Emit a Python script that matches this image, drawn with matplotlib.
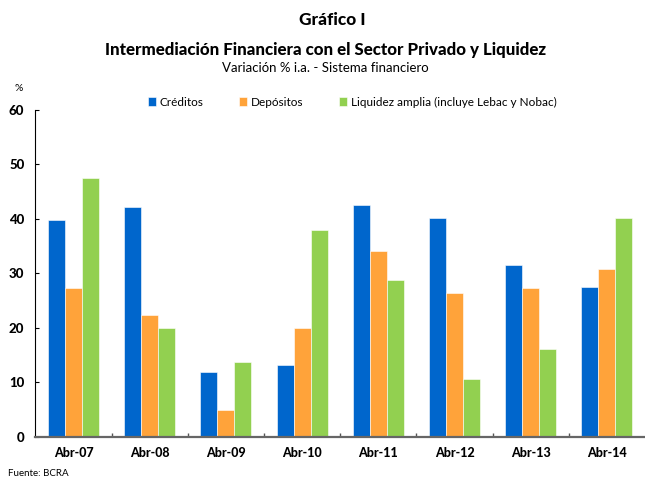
import numpy as np
import matplotlib.pyplot as plt

# Datos (variación % i.a.)
periodos = ["Abr-07", "Abr-08", "Abr-09", "Abr-10", "Abr-11", "Abr-12", "Abr-13", "Abr-14"]
creditos = [39.8, 42.2, 12.0, 13.3, 42.5, 40.2, 31.6, 27.5]
depositos = [27.3, 22.4, 5.0, 20.0, 34.2, 26.5, 27.4, 30.8]
liquidez = [47.5, 20.0, 13.8, 38.0, 28.8, 10.6, 16.1, 40.1]
series_nombres = ["Créditos", "Depósitos", "Liquidez amplia (incluye Lebac y Nobac)"]

colores = ["#0066CC", "#FFA33A", "#92D050"]

plt.rcParams['font.family'] = ['Lato', 'DejaVu Sans']

fig = plt.figure(figsize=(6.45, 4.79), dpi=100)
ax = fig.add_axes([0.055, 0.0877, 0.945, 0.6827])

x = np.arange(len(periodos))
w = 0.223
for i, (vals, col, nom) in enumerate(zip([creditos, depositos, liquidez], colores, series_nombres)):
    ax.bar(x + (i - 1) * w, vals, width=w, color=col, label=nom,
           edgecolor="white", linewidth=0.4, zorder=2)

ax.set_xlim(-0.5, len(periodos) - 0.5)
ax.set_ylim(0, 60)
ax.set_yticks(range(0, 61, 10))
ax.set_yticklabels([str(v) for v in range(0, 61, 10)], fontsize=9.5, fontweight="black")
ax.set_xticks(x)
ax.set_xticklabels(periodos, fontsize=9, fontweight="black")
ax.set_xticks(np.arange(0.5, len(periodos) - 0.5, 1), minor=True)

ax.tick_params(axis="y", direction="in", length=3, width=0.8, pad=8)
ax.tick_params(axis="x", which="major", length=0, pad=7)
ax.tick_params(axis="x", which="minor", direction="in", length=3, width=1, color="#555555")

for s in ["top", "right"]:
    ax.spines[s].set_visible(False)
ax.spines["left"].set_linewidth(0.8)
ax.spines["bottom"].set_color("#666666")
ax.spines["bottom"].set_linewidth(1.6)

fig.text(0.515, 0.958, "Gráfico I", ha="center", va="center", fontsize=12.4, fontweight="black")
fig.text(0.504, 0.896, "Intermediación Financiera con el Sector Privado y Liquidez",
         ha="center", va="center", fontsize=12.2, fontweight="black")
fig.text(0.505, 0.858, "Variación % i.a. - Sistema financiero", ha="center", va="center", fontsize=9.5)
fig.text(0.029, 0.815, "%", ha="center", va="center", fontsize=7.5)
fig.text(0.012, 0.003, "Fuente: BCRA", ha="left", va="bottom", fontsize=7)

fig.legend(loc="center", bbox_to_anchor=(0.546, 0.787), ncol=3, frameon=False,
           fontsize=8.5, handlelength=0.7, handleheight=0.7, handletextpad=0.3,
           columnspacing=3.0)

fig.savefig("out.png", dpi=100)
